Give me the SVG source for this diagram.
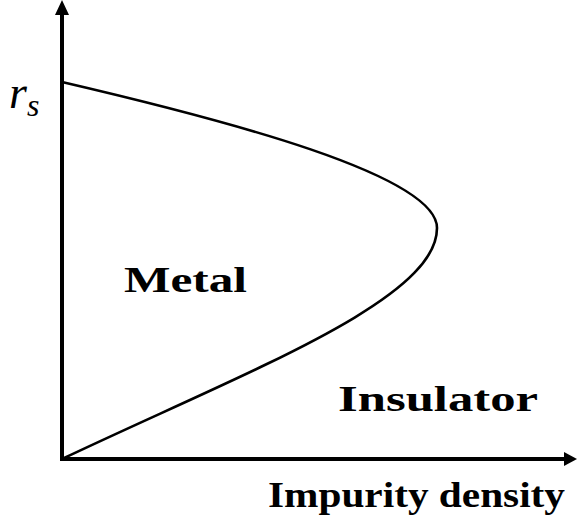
<svg xmlns="http://www.w3.org/2000/svg" width="577" height="523" viewBox="0 0 577 523">
<style>
.axis{stroke:#000;stroke-width:4;fill:none}
.curve{stroke:#000;stroke-width:2.6;fill:none}
.lbl{font-family:"Liberation Serif",serif;font-weight:bold;font-size:36px;fill:#000}
.math{font-family:"Liberation Serif",serif;font-style:italic;fill:#000}
</style>
<rect width="577" height="523" fill="#fff"/>
<g id="axes">
<path class="axis" d="M62,461 V12 M60,459 H566"/>
<polygon points="62,0 55,15 69,15" fill="#000"/>
<polygon points="577,459 564,452 564,466" fill="#000"/>
</g>
<g id="connectors">
<path class="curve" d="M62,82 C225,120 437,175 437,228 C437,300 250,370 62,459"/>
</g>
<g id="rs"><text class="math" x="9" y="108" font-size="46">r<tspan font-size="32" dy="8">s</tspan></text></g>
<g id="metal"><text class="lbl" x="124" y="292" textLength="123" lengthAdjust="spacingAndGlyphs">Metal</text></g>
<g id="insulator"><text class="lbl" x="338" y="411" textLength="200" lengthAdjust="spacingAndGlyphs">Insulator</text></g>
<g id="xlabel"><text class="lbl" x="268" y="507" textLength="297" lengthAdjust="spacingAndGlyphs">Impurity density</text></g>
</svg>
